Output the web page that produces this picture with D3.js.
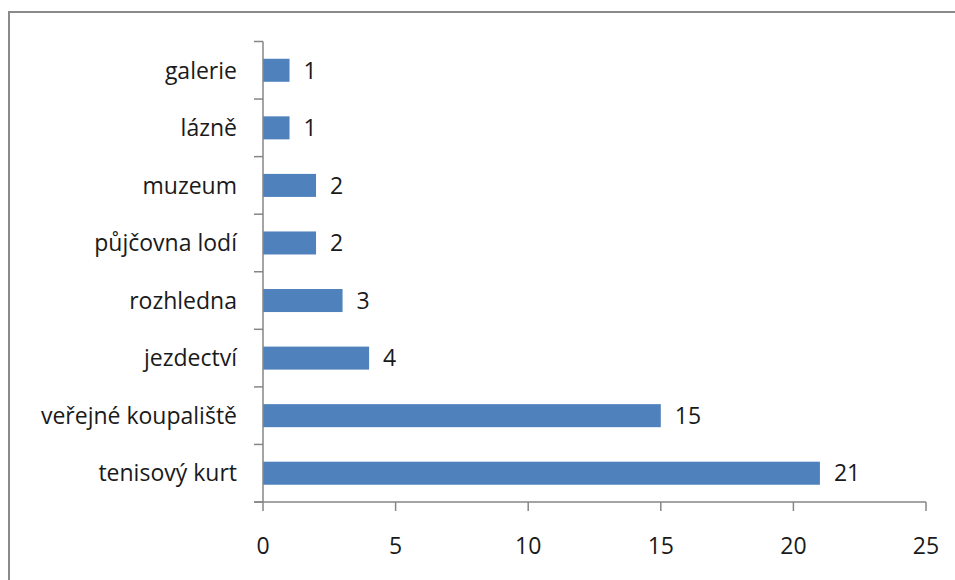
<!DOCTYPE html>
<html><head><meta charset="utf-8">
<script src="https://cdn.jsdelivr.net/npm/d3@7"></script>
<style>body{margin:0;background:#fff;} svg{display:block;}</style>
</head><body>
<script>
const categories = ["galerie","lázně","muzeum","půjčovna lodí","rozhledna","jezdectví","veřejné koupaliště","tenisový kurt"];
const values = [1,1,2,2,3,4,15,21];
const xTicks = [0,5,10,15,20,25];

(function(){
const W = 955, H = 580;
const svg = d3.select("body").append("svg").attr("width", W).attr("height", H);
const font = "'Open Sans', sans-serif";
const fs = 23;

svg.append("rect").attr("x", 9).attr("y", 12).attr("width", 960).attr("height", 600)
  .attr("fill", "none").attr("stroke", "#8a8a8a").attr("stroke-width", 2);

const pL = 263, pR = 926, pT = 41.5, pB = 502;
const x = d3.scaleLinear().domain([0, 25]).range([pL, pR]);
const y = d3.scaleBand().domain(categories).range([pT, pB]).paddingInner(0.6).paddingOuter(0.3);
const yb = d3.scaleBand().domain(categories).range([pT, pB]);
const axisColor = "#868686";

svg.selectAll("rect.bar").data(values).enter().append("rect")
  .attr("class","bar")
  .attr("x", x(0))
  .attr("y", (d,i) => y(categories[i]))
  .attr("width", d => x(d) - x(0))
  .attr("height", y.bandwidth())
  .attr("fill", "#4F81BD");

svg.selectAll("text.val").data(values).enter().append("text")
  .attr("class","val")
  .attr("x", d => x(d) + 14)
  .attr("y", (d,i) => y(categories[i]) + y.bandwidth()/2)
  .attr("dy", "0.36em")
  .attr("font-family", font).attr("font-size", fs).attr("fill", "#1a1a1a")
  .text(d => d);

svg.append("line").attr("x1", pL).attr("x2", pL).attr("y1", pT).attr("y2", pB)
  .attr("stroke", axisColor).attr("stroke-width", 1.5);
const bounds = categories.map(c => yb(c)).concat([pB]);
svg.selectAll("line.ytick").data(bounds).enter().append("line")
  .attr("class","ytick")
  .attr("x1", pL - 9).attr("x2", pL).attr("y1", d => d).attr("y2", d => d)
  .attr("stroke", axisColor).attr("stroke-width", 1.5);

svg.selectAll("text.cat").data(categories).enter().append("text")
  .attr("class","cat")
  .attr("x", 237)
  .attr("y", c => yb(c) + yb.bandwidth()/2)
  .attr("dy", "0.36em")
  .attr("text-anchor", "end")
  .attr("font-family", font).attr("font-size", fs).attr("fill", "#1a1a1a")
  .text(c => c);

svg.append("line").attr("x1", pL - 9).attr("x2", pR).attr("y1", pB).attr("y2", pB)
  .attr("stroke", axisColor).attr("stroke-width", 1.5);
svg.selectAll("line.xtick").data(xTicks).enter().append("line")
  .attr("class","xtick")
  .attr("x1", d => x(d)).attr("x2", d => x(d)).attr("y1", pB).attr("y2", pB + 9)
  .attr("stroke", axisColor).attr("stroke-width", 1.5);
svg.selectAll("text.xl").data(xTicks).enter().append("text")
  .attr("class","xl")
  .attr("x", d => x(d)).attr("y", 546).attr("dy", "0.36em")
  .attr("text-anchor", "middle")
  .attr("font-family", font).attr("font-size", fs).attr("fill", "#1a1a1a")
  .text(d => d);
})();
</script>
</body></html>
